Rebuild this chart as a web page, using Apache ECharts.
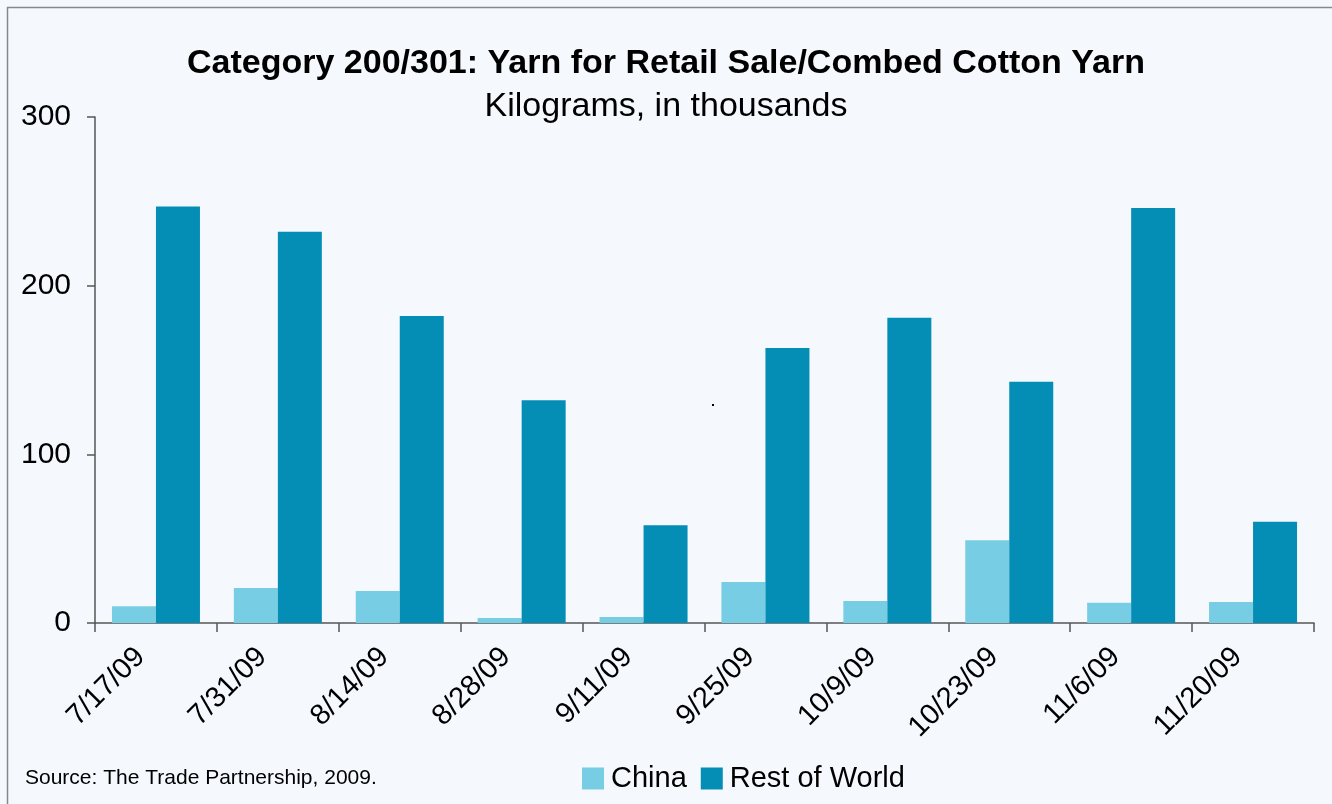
<!DOCTYPE html>
<html><head><meta charset="utf-8">
<script src="https://cdn.jsdelivr.net/npm/echarts@6/dist/echarts.min.js"></script>
<style>html,body{margin:0;padding:0;background:#F5F9FE;}#c{width:1332px;height:804px;}</style>
</head><body><div id="c"></div>
<script>
const categories = ['7/17/09','7/31/09','8/14/09','8/28/09','9/11/09','9/25/09','10/9/09','10/23/09','11/6/09','11/20/09'];
const china = [10, 20.7, 19, 3, 3.5, 24.3, 13, 49, 12, 12.4];
const restOfWorld = [247, 232, 182, 132, 58, 163, 181, 143, 246, 60];
const yTicks = [0, 100, 200, 300];

const chart = echarts.init(document.getElementById('c'));
const font = 'Liberation Sans, Arial, sans-serif';
chart.setOption({
  backgroundColor: '#F5F9FE',
  animation: false,
  title: [
    {text: 'Category 200/301: Yarn for Retail Sale/Combed Cotton Yarn', left: 'center', top: 42,
     textStyle: {fontFamily: font, fontSize: 34, fontWeight: 'bold', color: '#000'}},
    {text: 'Kilograms, in thousands', left: 'center', top: 85,
     textStyle: {fontFamily: font, fontSize: 34, fontWeight: 'normal', color: '#000'}}
  ],
  legend: {
    data: ['China', 'Rest of World'], bottom: 6, left: 577, itemWidth: 22, itemHeight: 22, itemGap: 14,
    icon: 'rect', textStyle: {fontFamily: font, fontSize: 29, color: '#000', padding: [0, 0, 0, 2]}
  },
  grid: {left: 95, right: 18, top: 117, bottom: 181, containLabel: false},
  xAxis: {
    type: 'category', data: categories,
    axisLine: {lineStyle: {color: '#555', width: 1.5}},
    axisTick: {show: true, length: 9, alignWithLabel: false, lineStyle: {color: '#555', width: 1.5}},
    axisLabel: {rotate: 45, margin: 14, padding: [0, 22, 0, 0], fontFamily: font, fontSize: 29, color: '#000', interval: 0}
  },
  yAxis: {
    type: 'value', min: 0, max: 300, interval: 100,
    axisLine: {show: true, lineStyle: {color: '#555', width: 1.5}},
    axisTick: {show: true, length: 8, lineStyle: {color: '#555', width: 1.5}},
    splitLine: {show: false},
    axisLabel: {margin: 24, fontFamily: font, fontSize: 30, color: '#000',
      formatter: v => yTicks.includes(v) ? String(v) : ''}
  },
  series: [
    {name: 'China', type: 'bar', data: china, barWidth: 44, barGap: '0%', itemStyle: {color: '#77CDE3'}},
    {name: 'Rest of World', type: 'bar', data: restOfWorld, barWidth: 44, itemStyle: {color: '#048DB5'}}
  ],
  graphic: [
    {type: 'rect', shape: {x: 7.5, y: 7.5, width: 1340, height: 820}, style: {fill: 'none', stroke: '#888', lineWidth: 1.5}, silent: true},
    {type: 'text', left: 25, top: 768, style: {text: 'Source: The Trade Partnership, 2009.', font: '21px ' + font, fill: '#000'}},
    {type: 'rect', shape: {x: 712, y: 404, width: 2, height: 2}, style: {fill: '#000'}}
  ]
});
</script></body></html>
